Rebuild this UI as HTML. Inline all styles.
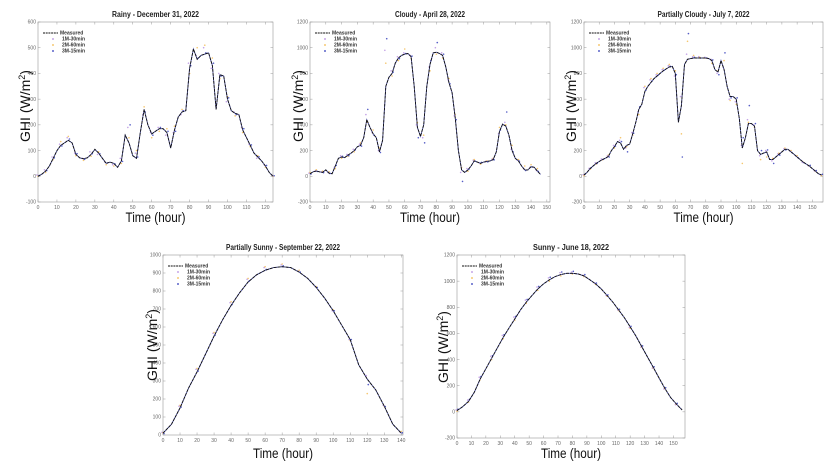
<!DOCTYPE html>
<html><head><meta charset="utf-8">
<style>
html,body{margin:0;padding:0;background:#fff;}
svg{display:block;font-family:"Liberation Sans",sans-serif;}
.tick{font-size:5px;fill:#666;}
.ttl{font-size:8px;font-weight:bold;fill:#222;}
.lab{font-size:14px;fill:#111;}
.leg{font-size:5px;font-weight:bold;fill:#333;}
</style></head>
<body>
<svg id="fig" width="836" height="474" viewBox="0 0 836 474"></svg>
<script>
// ---- data ----
const rainyMeasured=[0,8,20,40,70,100,120,130,140,130,85,72,68,72,85,105,90,70,50,55,50,35,60,160,130,80,70,170,260,200,165,175,185,185,170,110,180,230,250,255,420,495,455,470,475,480,430,260,395,390,300,255,245,240,180,150,120,90,75,60,40,15,0];
const rainy1M=[5,25,75,125,150,90,70,95,85,55,45,70,190,90,240,170,190,160,170,240,440,470,500,420,400,290,250,190,125,70,45,5];
const rainy2M=[0,15,65,135,155,80,62,78,95,45,40,50,150,100,270,150,175,185,195,260,400,500,510,460,380,310,235,170,115,80,35,0];
const rainy3M=[3,22,72,118,145,88,66,88,88,52,48,58,200,75,250,160,190,175,175,255,430,460,480,440,390,305,240,185,122,76,42,2];

const cloudyMeasured=[20,35,40,35,30,50,25,20,80,140,150,145,165,180,200,230,240,300,440,380,330,300,190,280,700,770,800,880,920,940,950,955,930,700,380,310,400,700,870,960,965,955,940,850,730,650,450,200,50,30,50,80,120,110,100,110,115,120,130,190,350,405,390,320,200,140,120,80,50,50,75,70,40,15];
const cloudy1M=[25,45,35,30,70,160,170,210,250,480,340,200,980,820,930,960,940,400,300,850,1000,960,750,470,30,60,125,105,118,135,330,420,210,125,60,70,45];
const cloudy2M=[30,50,40,35,60,140,155,190,260,420,360,220,880,780,900,990,920,420,320,820,950,920,760,480,70,40,130,95,120,140,380,400,240,130,80,90,60];
const cloudy3M=[18,38,28,22,85,155,160,205,235,520,320,185,1070,810,915,955,935,300,260,900,1040,950,720,440,-40,55,118,108,112,128,360,500,190,118,45,72,38];

const pcMeasured=[10,30,60,80,100,115,130,140,155,200,230,270,260,210,240,250,330,420,520,560,660,700,730,760,780,800,820,835,850,855,800,420,550,870,910,915,920,920,920,920,920,915,900,830,810,900,830,700,620,620,600,450,220,300,410,410,390,200,170,180,190,130,130,150,170,190,210,210,190,170,150,130,110,95,80,60,40,20,10];
const pc1M=[12,62,105,135,160,240,280,220,340,500,690,750,790,830,860,780,620,950,930,930,925,910,800,850,600,580,240,440,400,160,200,120,175,215,195,155,108,82,42,12];
const pc2M=[5,55,95,128,165,220,300,230,320,480,700,760,800,840,870,820,330,1050,940,925,918,880,820,900,590,560,100,420,380,130,150,140,180,220,200,160,112,78,38,5];
const pc3M=[15,65,100,132,150,235,270,190,335,540,670,740,785,825,855,790,150,1110,925,920,920,905,790,960,610,610,300,550,410,200,205,100,165,205,185,145,105,85,45,15];

const psMeasured=[10,60,150,260,350,450,550,640,720,790,850,890,915,930,935,930,905,870,820,760,690,610,530,390,310,250,160,60,10];
const ps1M=[15,160,365,565,735,865,930,945,910,825,690,530,330,165,15];
const ps2M=[12,165,370,570,740,870,935,950,915,825,695,525,230,160,20];
const ps3M=[8,155,355,555,725,855,920,940,905,820,690,530,280,158,12];

const sunnyMeasured=[10,40,80,150,250,330,410,490,570,640,710,780,840,890,940,980,1010,1035,1050,1060,1060,1055,1040,1010,980,940,890,840,780,720,650,580,500,420,340,260,180,110,60,15];
const sunny1M=[15,90,265,425,585,725,855,955,1025,1065,1070,1045,985,890,780,645,495,335,175,55];
const sunny2M=[5,75,245,400,560,700,830,930,1000,1040,1055,1035,975,885,775,640,495,335,178,58];
const sunny3M=[20,95,270,430,590,730,860,960,1030,1070,1075,1050,985,895,785,655,505,345,185,65];

const legendLabels=["Measured","1M-30min","2M-60min","3M-15min"];

// ---- layout ----
const charts=[
 {id:"rainy",title:"Rainy - December 31, 2022",tw:87,L:38,R:273,T:22,B:202,xmax:124,ymin:-100,ymax:600,ystep:100,xstep:10,xlast:120,
  meas:rainyMeasured,mstep:2,p:[rainy1M,rainy2M,rainy3M],pstep:4,ylx:25,yly:106,xly:222},
 {id:"cloudy",title:"Cloudy - April 28, 2022",tw:70,L:310,R:550,T:22,B:202,xmax:152,ymin:-200,ymax:1200,ystep:200,xstep:10,xlast:150,
  meas:cloudyMeasured,mstep:2,p:[cloudy1M,cloudy2M,cloudy3M],pstep:4,ylx:298,yly:106,xly:222},
 {id:"partly-cloudy",title:"Partially Cloudy - July 7, 2022",tw:92,L:584,R:823,T:22,B:202,xmax:157,ymin:-200,ymax:1200,ystep:200,xstep:10,xlast:150,
  meas:pcMeasured,mstep:2,p:[pc1M,pc2M,pc3M],pstep:4,ylx:571,yly:106,xly:222},
 {id:"partly-sunny",title:"Partially Sunny - September 22, 2022",tw:114,L:163,R:403,T:255,B:435,xmax:141,ymin:0,ymax:1000,ystep:100,xstep:10,xlast:140,
  meas:psMeasured,mstep:5,p:[ps1M,ps2M,ps3M],pstep:10,ylx:152,yly:345,xly:458},
 {id:"sunny",title:"Sunny - June 18, 2022",tw:76,L:457,R:685,T:255,B:438,xmax:158,ymin:-200,ymax:1200,ystep:200,xstep:10,xlast:150,
  meas:sunnyMeasured,mstep:4,p:[sunny1M,sunny2M,sunny3M],pstep:8,ylx:443,yly:347,xly:458}
];
const predColors=["#b58be0","#f2b84a","#2a35b8"];
const NS="http://www.w3.org/2000/svg";
const svg=document.getElementById("fig");
function mk(tag,attrs,parent){const e=document.createElementNS(NS,tag);for(const k in attrs)e.setAttribute(k,attrs[k]);(parent||svg).appendChild(e);return e;}

charts.forEach(c=>{
  const g=mk("g",{});
  
  
  const sx=v=>c.L+(v/c.xmax)*(c.R-c.L);
  const sy=v=>c.B-(v-c.ymin)/(c.ymax-c.ymin)*(c.B-c.T);
  const fr=mk("rect",{x:c.L,y:c.T,width:c.R-c.L,height:c.B-c.T,fill:"#fff",stroke:"#999","stroke-width":0.6},g);
  
  
  for(let v=c.ymin;v<=c.ymax+1e-6;v+=c.ystep){
    const y=sy(v);
    mk("line",{x1:c.L,x2:c.L+2.5,y1:y,y2:y,stroke:"#999","stroke-width":0.5},g);
    mk("line",{x1:c.R,x2:c.R-2.5,y1:y,y2:y,stroke:"#999","stroke-width":0.5},g);
    const t=mk("text",{x:c.L-2,y:y+1.7,"text-anchor":"end",class:"tick"},g);t.textContent=v;
    
    
  }
  for(let v=0;v<=c.xlast;v+=c.xstep){
    const x=sx(v);
    mk("line",{x1:x,x2:x,y1:c.B,y2:c.B-2.5,stroke:"#999","stroke-width":0.5},g);
    mk("line",{x1:x,x2:x,y1:c.T,y2:c.T+2.5,stroke:"#999","stroke-width":0.5},g);
    const t=mk("text",{x:x,y:c.B+7,"text-anchor":"middle",class:"tick"},g);t.textContent=v;
    
    
  }
  c.p.forEach((arr,k)=>{
    arr.forEach((v,i)=>{
      const d=mk("circle",{cx:sx(i*c.pstep+(k-1)*0.6),cy:sy(v),r:0.8,fill:predColors[k],opacity:0.8},g);
      
      
    });
  });
  const pts=c.meas.map((v,i)=>sx(i*c.mstep).toFixed(1)+","+sy(v).toFixed(1)).join(" ");
  const under=mk("polyline",{points:pts,fill:"none",stroke:"#4a4fa8","stroke-width":0.9},g);
  
  
  const ml=mk("polyline",{points:pts,fill:"none",stroke:"#111","stroke-width":0.9,"stroke-dasharray":"3,1"},g);
  
  
  const tt=mk("text",{x:(c.L+c.R)/2,y:c.T-5,"text-anchor":"middle",class:"ttl",textLength:c.tw,lengthAdjust:"spacingAndGlyphs"},g);tt.textContent=c.title;
  
  
  const yl=mk("text",{x:0,y:0,"text-anchor":"middle",class:"lab",transform:`translate(${c.ylx+5},${c.yly}) rotate(-90)`},g);
  yl.innerHTML='GHI (W/m<tspan dy="-5" font-size="9">2</tspan><tspan dy="5">)</tspan>';
  
  
  const xl=mk("text",{x:(c.L+c.R)/2,y:c.xly,"text-anchor":"middle",class:"lab",textLength:60,lengthAdjust:"spacingAndGlyphs"},g);xl.textContent="Time (hour)";
  
  
  const lx=c.L+5, ly=c.T+11;
  legendLabels.forEach((lab,i)=>{
    const y=ly+i*6;
    const le=mk("g",{},g);
    
    
    if(i===0){mk("line",{x1:lx,x2:lx+15,y1:y,y2:y,stroke:"#111","stroke-width":1,"stroke-dasharray":"2,0.7"},le);}
    else{mk("circle",{cx:lx+10,cy:y,r:0.9,fill:predColors[i-1]},le);}
    const t=mk("text",{x:lx+(i===0?17:19),y:y+1.7,class:"leg"},le);t.textContent=lab;
  });
});
</script>
</body></html>
